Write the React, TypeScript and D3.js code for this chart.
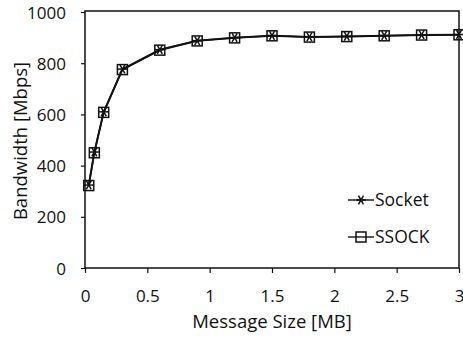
import React, { useEffect, useRef } from 'react';
import * as d3 from 'd3';

// Message size (MB) and bandwidth (Mbps)
const messageSizes = [0.03, 0.075, 0.15, 0.3, 0.6, 0.9, 1.2, 1.5, 1.8, 2.1, 2.4, 2.7, 3.0];
const socketBandwidth = [324, 453, 610, 777, 853, 888, 900, 908, 903, 905, 908, 911, 912];
const ssockBandwidth = [322, 450, 608, 775, 851, 887, 899, 907, 902, 904, 907, 910, 911];

const xTicks = [0, 0.5, 1, 1.5, 2, 2.5, 3];
const yTicks = [0, 200, 400, 600, 800, 1000];

const seriesNames = ['Socket', 'SSOCK'];

const App = () => {
  const ref = useRef<SVGSVGElement>(null);

  useEffect(() => {
    const svg = d3.select(ref.current);
    svg.selectAll('*').remove();

    const width = 463;
    const height = 349;
    const margin = { top: 12, right: 4, bottom: 81, left: 85 };
    const font = "Open Sans, 'DejaVu Sans', sans-serif";

    svg.attr('width', width).attr('height', height);
    svg.append('rect').attr('width', width).attr('height', height).attr('fill', '#fff');

    const x = d3.scaleLinear().domain([0, 3]).range([margin.left, width - margin.right]);
    const y = d3.scaleLinear().domain([0, 1000]).range([height - margin.bottom, margin.top]);

    // Frame
    svg.append('rect')
      .attr('x', x(0))
      .attr('y', y(1000) - 1)
      .attr('width', x(3) - x(0))
      .attr('height', y(0) - y(1000) + 1)
      .attr('fill', 'none')
      .attr('stroke', '#111')
      .attr('stroke-width', 1.5);

    // Y axis
    const yAxis = svg.append('g')
      .attr('transform', `translate(${x(0)},0)`)
      .call(d3.axisLeft(y).tickValues(yTicks).tickSize(4).tickPadding(15).tickFormat(d3.format('d')));
    yAxis.select('.domain').remove();
    yAxis.selectAll('line').attr('stroke', '#111').attr('stroke-width', 1.2);
    yAxis.selectAll('text').attr('font-family', font).attr('font-size', 17).attr('fill', '#111').attr('dy', '0.36em');

    // X axis
    const xAxis = svg.append('g')
      .attr('transform', `translate(0,${y(0)})`)
      .call(d3.axisBottom(x).tickValues(xTicks).tickSize(5).tickPadding(17).tickFormat(d3.format('')));
    xAxis.select('.domain').remove();
    xAxis.selectAll('line').attr('stroke', '#111').attr('stroke-width', 1.2);
    xAxis.selectAll('text').attr('font-family', font).attr('font-size', 17).attr('fill', '#111');

    // Axis titles
    svg.append('text')
      .attr('x', (x(0) + x(3)) / 2)
      .attr('y', 328)
      .attr('text-anchor', 'middle')
      .attr('font-family', font)
      .attr('font-size', 18.5)
      .attr('fill', '#111')
      .text('Message Size [MB]');

    svg.append('text')
      .attr('transform', `translate(27,${(y(0) + y(1000)) / 2 + 1}) rotate(-90)`)
      .attr('text-anchor', 'middle')
      .attr('font-family', font)
      .attr('font-size', 18.5)
      .attr('fill', '#111')
      .text('Bandwidth [Mbps]');

    const line = d3.line<number>()
      .x((_, i) => x(messageSizes[i]))
      .y((d) => y(d));

    const drawStar = (g: any, cx: number, cy: number, r: number) => {
      [0, 60, 120].forEach((a) => {
        const rad = (a * Math.PI) / 180;
        g.append('line')
          .attr('x1', cx - r * Math.cos(rad)).attr('y1', cy - r * Math.sin(rad))
          .attr('x2', cx + r * Math.cos(rad)).attr('y2', cy + r * Math.sin(rad))
          .attr('stroke', '#111').attr('stroke-width', 1.5);
      });
    };
    const drawSquare = (g: any, cx: number, cy: number, r: number) => {
      g.append('rect')
        .attr('x', cx - r).attr('y', cy - r)
        .attr('width', 2 * r).attr('height', 2 * r)
        .attr('fill', 'none').attr('stroke', '#111').attr('stroke-width', 1.5);
    };

    // Lines
    [socketBandwidth, ssockBandwidth].forEach((vals) => {
      svg.append('path')
        .datum(vals)
        .attr('fill', 'none')
        .attr('stroke', '#111')
        .attr('stroke-width', 1.8)
        .attr('d', line);
    });

    // Markers
    const mk = svg.append('g');
    socketBandwidth.forEach((v, i) => drawStar(mk, x(messageSizes[i]), y(v), 5));
    ssockBandwidth.forEach((v, i) => drawSquare(mk, x(messageSizes[i]), y(v), 5));

    // Legend
    const legend = svg.append('g');
    seriesNames.forEach((name, i) => {
      const ly = 200 + i * 37;
      legend.append('line')
        .attr('x1', 348).attr('x2', 374)
        .attr('y1', ly).attr('y2', ly)
        .attr('stroke', '#111').attr('stroke-width', 1.4);
      if (i === 0) drawStar(legend, 361, ly, 5);
      else drawSquare(legend, 361, ly, 5);
      legend.append('text')
        .attr('x', 375)
        .attr('y', ly + 6)
        .attr('font-family', font)
        .attr('font-size', 17.5)
        .attr('fill', '#111')
        .text(name);
    });
  }, []);

  return <svg ref={ref} style={{ position: 'absolute', left: 0, top: 0 }}></svg>;
};

export default App;
